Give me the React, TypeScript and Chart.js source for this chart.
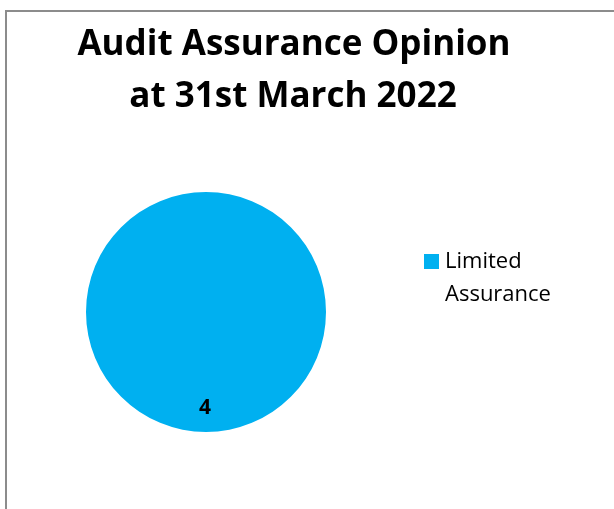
import React, { useEffect, useRef } from "react";
import { Chart, registerables } from "chart.js";

Chart.register(...registerables);

const titleLines = ["Audit Assurance Opinion", "at 31st March 2022"];
const categories = ["Limited Assurance"];
const legendLines = [["Limited", "Assurance"]];
const values = [4];
const colors = ["#00B0F0"];

const FONT = "'Open Sans', sans-serif";

const overlayPlugin = {
  id: "overlay",
  afterDraw(chart: any) {
    const ctx = chart.ctx as CanvasRenderingContext2D;
    ctx.save();
    // title
    ctx.fillStyle = "#000";
    ctx.textAlign = "center";
    ctx.textBaseline = "alphabetic";
    ctx.font = `bold 35px ${FONT}`;
    ctx.fillText(titleLines[0], 294, 55);
    ctx.fillText(titleLines[1], 293, 107);

    // data labels
    const meta = chart.getDatasetMeta(0);
    meta.data.forEach((arc: any, i: number) => {
      const p = arc.getProps(["x", "y", "startAngle", "endAngle", "outerRadius"], true);
      const mid = (p.startAngle + p.endAngle) / 2;
      const r = p.outerRadius * 0.8;
      ctx.font = `bold 21px ${FONT}`;
      ctx.textBaseline = "middle";
      ctx.textAlign = "center";
      ctx.fillText(String(chart.data.datasets[0].data[i]), p.x + Math.cos(mid) * r - 1, p.y + Math.sin(mid) * r);
    });

    // legend
    categories.forEach((_, i) => {
      const y0 = 254 + i * 70;
      ctx.fillStyle = colors[i];
      ctx.fillRect(424, y0, 15, 15);
      ctx.fillStyle = "#000";
      ctx.font = `22px ${FONT}`;
      ctx.textAlign = "left";
      ctx.textBaseline = "alphabetic";
      legendLines[i].forEach((line, j) => {
        ctx.fillText(line, 445, 268 + i * 70 + j * 33);
      });
    });
    ctx.restore();
  },
};

export default function App() {
  const ref = useRef<HTMLCanvasElement>(null);
  useEffect(() => {
    if (!ref.current) return;
    const chart = new Chart(ref.current, {
      type: "pie",
      data: {
        labels: categories,
        datasets: [
          {
            data: values,
            backgroundColor: colors,
            borderWidth: 0,
          },
        ],
      },
      options: {
        animation: false,
        responsive: false,
        devicePixelRatio: 1,
        layout: { padding: { left: 86, right: 288, top: 192, bottom: 77 } },
        plugins: {
          legend: { display: false },
          title: { display: false },
          tooltip: { enabled: false },
        },
      },
      plugins: [overlayPlugin],
    });
    return () => chart.destroy();
  }, []);
  return (
    <div style={{ position: "fixed", left: 0, top: 0, width: 614, height: 509, background: "#fff", overflow: "hidden" }}>
      <div
        style={{
          position: "absolute",
          left: 5,
          top: 10,
          width: 700,
          height: 600,
          border: "2px solid #8c8c8c",
          boxSizing: "border-box",
        }}
      />
      <canvas ref={ref} width={614} height={509} style={{ position: "absolute", left: 0, top: 0 }} />
    </div>
  );
}
